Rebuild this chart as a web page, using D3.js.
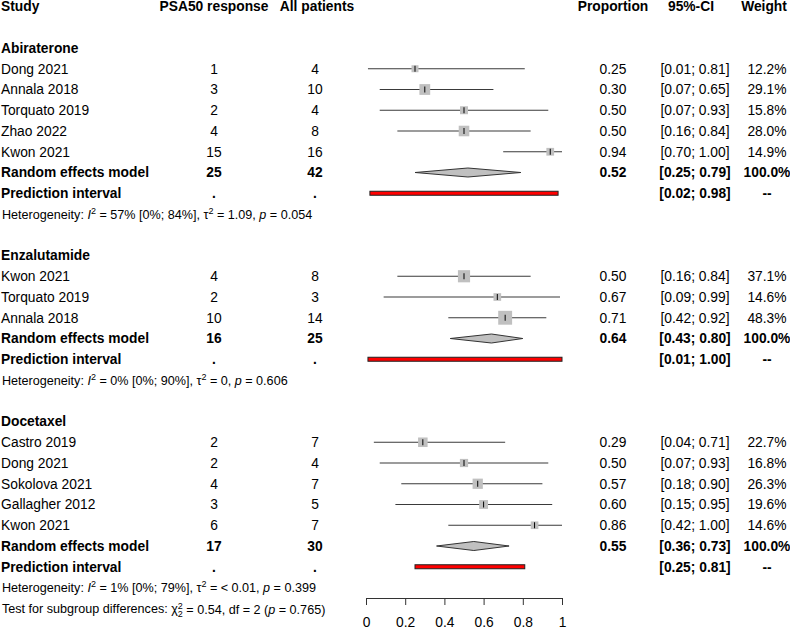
<!DOCTYPE html>
<html>
<head>
<meta charset="utf-8">
<script src="https://cdn.jsdelivr.net/npm/d3@7"></script>
<style>
body { margin: 0; background: #fff; }
svg { font-family: "Liberation Sans", Arial, sans-serif; }
.bold { font-weight: bold; }
</style>
</head>
<body>
<div id="chart"></div>
<script>
// subgroups
var groupNames = ["Abiraterone", "Enzalutamide", "Docetaxel"]
// studies (parallel arrays)
var studyGroup = [0, 0, 0, 0, 0, 1, 1, 1, 2, 2, 2, 2, 2]
var studyNames = ["Dong 2021", "Annala 2018", "Torquato 2019", "Zhao 2022", "Kwon 2021",
	"Kwon 2021", "Torquato 2019", "Annala 2018",
	"Castro 2019", "Dong 2021", "Sokolova 2021", "Gallagher 2012", "Kwon 2021"]
var events = [1, 3, 2, 4, 15, 4, 2, 10, 2, 2, 4, 3, 6]
var totals = [4, 10, 4, 8, 16, 8, 3, 14, 7, 4, 7, 5, 7]
var proportion = [0.25, 0.30, 0.50, 0.50, 0.94, 0.50, 0.67, 0.71, 0.29, 0.50, 0.57, 0.60, 0.86]
var ciLow = [0.01, 0.07, 0.07, 0.16, 0.70, 0.16, 0.09, 0.42, 0.04, 0.07, 0.18, 0.15, 0.42]
var ciHigh = [0.81, 0.65, 0.93, 0.84, 1.00, 0.84, 0.99, 0.92, 0.71, 0.93, 0.90, 0.95, 1.00]
var weight = [12.2, 29.1, 15.8, 28.0, 14.9, 37.1, 14.6, 48.3, 22.7, 16.8, 26.3, 19.6, 14.6]
// pooled estimates per subgroup
var pooledEvents = [25, 16, 17]
var pooledTotals = [42, 25, 30]
var pooledProp = [0.52, 0.64, 0.55]
var pooledLow = [0.25, 0.43, 0.36]
var pooledHigh = [0.79, 0.80, 0.73]
var predLow = [0.02, 0.01, 0.25]
var predHigh = [0.98, 1.00, 0.81]
// heterogeneity
var i2 = ["57%", "0%", "1%"]
var i2ci = ["[0%; 84%]", "[0%; 90%]", "[0%; 79%]"]
var tau2 = ["1.09", "0", "< 0.01"]
var hetP = ["0.054", "0.606", "0.399"]
var subgroupChi2 = "0.54", subgroupDf = "2", subgroupP = "0.765"
var axisTicks = [0, 0.2, 0.4, 0.6, 0.8, 1]

var width = 790, height = 629
var fs = 13.8, fsSmall = 12.6
var rowY = (n) => 6.5 + 20.75 * n
var cols = {study: 1, events: 214, totals: 315, prop: 613, ci: 695, weight: 767}
var fmt2 = d3.format(".2f"), fmt1 = d3.format(".1f")

var x = d3.scaleLinear().domain([0, 1]).range([366, 562])
var side = d3.scaleSqrt().domain([0, 100]).range([0, 20])

var svg = d3.select("#chart").append("svg")
	.attr("width", width)
	.attr("height", height)

function txt(xp, y, s, anchor, bold, size) {
	return svg.append("text")
		.attr("x", xp)
		.attr("y", y)
		.attr("dy", "0.36em")
		.attr("class", bold ? "bold" : null)
		.style("font-size", (size || fs) + "px")
		.style("text-anchor", anchor || "middle")
		.text(s)
}

// header
txt(cols.study, rowY(0), "Study", "start", true)
txt(214, rowY(0), "PSA50 response", "middle", true)
txt(317, rowY(0), "All patients", "middle", true)
txt(613, rowY(0), "Proportion", "middle", true)
txt(691, rowY(0), "95%-CI", "middle", true)
txt(764, rowY(0), "Weight", "middle", true)

// build the row layout
var row = 2
var studyRows = [], groupRows = []
groupNames.forEach((g, gi) => {
	var r = {header: row}
	row++
	studyGroup.forEach((sg, si) => { if (sg == gi) { studyRows.push({i: si, row: row}); row++ } })
	r.pooled = row; r.pred = row + 1; r.het = row + 2
	groupRows.push(r)
	row += 4
})
var testRow = groupRows[2].het + 1

var ciText = (lo, hi) => "[" + fmt2(lo) + "; " + fmt2(hi) + "]"

// study rows
studyRows.forEach((d) => {
	var i = d.i, y = rowY(d.row)
	txt(cols.study, y, studyNames[i], "start")
	txt(cols.events, y, events[i])
	txt(cols.totals, y, totals[i])
	txt(cols.prop, y, fmt2(proportion[i]))
	txt(cols.ci, y, ciText(ciLow[i], ciHigh[i]))
	txt(cols.weight, y, fmt1(weight[i]) + "%")
	svg.append("line")
		.attr("x1", x(ciLow[i])).attr("x2", x(ciHigh[i]))
		.attr("y1", y).attr("y2", y)
		.attr("stroke", "#3a3a3a").attr("stroke-width", 1.1)
	var s = side(weight[i])
	svg.append("rect")
		.attr("x", x(proportion[i]) - s / 2).attr("y", y - s / 2)
		.attr("width", s).attr("height", s)
		.attr("fill", "#c0c0c0")
	svg.append("line")
		.attr("x1", x(proportion[i])).attr("x2", x(proportion[i]))
		.attr("y1", y - 3).attr("y2", y + 3)
		.attr("stroke", "#000").attr("stroke-width", 1)
})

// subgroup rows
groupRows.forEach((r, gi) => {
	txt(cols.study, rowY(r.header), groupNames[gi], "start", true)
	var y = rowY(r.pooled)
	txt(cols.study, y, "Random effects model", "start", true)
	txt(cols.events, y, pooledEvents[gi], "middle", true)
	txt(cols.totals, y, pooledTotals[gi], "middle", true)
	txt(cols.prop, y, fmt2(pooledProp[gi]), "middle", true)
	txt(cols.ci, y, ciText(pooledLow[gi], pooledHigh[gi]), "middle", true)
	txt(cols.weight, y, "100.0%", "middle", true)
	var h = 4.5
	svg.append("path")
		.attr("d", "M" + x(pooledLow[gi]) + "," + y + "L" + x(pooledProp[gi]) + "," + (y - h) +
			"L" + x(pooledHigh[gi]) + "," + y + "L" + x(pooledProp[gi]) + "," + (y + h) + "Z")
		.attr("fill", "#c0c0c0").attr("stroke", "#333").attr("stroke-width", 1)

	var yp = rowY(r.pred)
	txt(cols.study, yp, "Prediction interval", "start", true)
	txt(cols.events, yp, ".", "middle", true)
	txt(cols.totals, yp, ".", "middle", true)
	txt(cols.ci, yp, ciText(predLow[gi], predHigh[gi]), "middle", true)
	txt(cols.weight, yp, "--", "middle", true)
	svg.append("rect")
		.attr("x", x(predLow[gi])).attr("y", yp - 2)
		.attr("width", x(predHigh[gi]) - x(predLow[gi])).attr("height", 4)
		.attr("fill", "#ff0000").attr("stroke", "#222").attr("stroke-width", 1)

	var t = txt(2, rowY(r.het), null, "start", false, fsSmall)
	t.append("tspan").text("Heterogeneity: ")
	t.append("tspan").style("font-style", "italic").text("I")
	t.append("tspan").attr("baseline-shift", "super").style("font-size", "9px").text("2")
	t.append("tspan").text(" = " + i2[gi] + " " + i2ci[gi] + ", \u03c4")
	t.append("tspan").attr("baseline-shift", "super").style("font-size", "9px").text("2")
	t.append("tspan").text(" = " + tau2[gi] + ", ")
	t.append("tspan").style("font-style", "italic").text("p")
	t.append("tspan").text(" = " + hetP[gi])
})

// test for subgroup differences
var tt = txt(2, rowY(testRow), null, "start", false, fsSmall)
tt.append("tspan").text("Test for subgroup differences: \u03c7")
tt.append("tspan").attr("dy", "-0.45em").style("font-size", "9px").text("2")
tt.append("tspan").attr("dx", "-5").attr("dy", "0.95em").style("font-size", "9px").text("2")
tt.append("tspan").attr("dy", "-0.23em").text(" = " + subgroupChi2 + ", df = " + subgroupDf + " (")
tt.append("tspan").style("font-style", "italic").text("p")
tt.append("tspan").text(" = " + subgroupP + ")")

// axis
var axis = d3.axisBottom(x)
	.tickValues(axisTicks)
	.tickFormat((d) => d)
	.tickSize(7)
	.tickSizeOuter(0)
	.tickPadding(12)
var ax = svg.append("g")
	.attr("transform", "translate(0,598)")
	.call(axis)
ax.selectAll("text").style("font-size", fs + "px").style("font-family", "Liberation Sans, Arial, sans-serif").attr("fill", "#000")
ax.selectAll("line, path").attr("stroke", "#333")
</script>
</body>
</html>
